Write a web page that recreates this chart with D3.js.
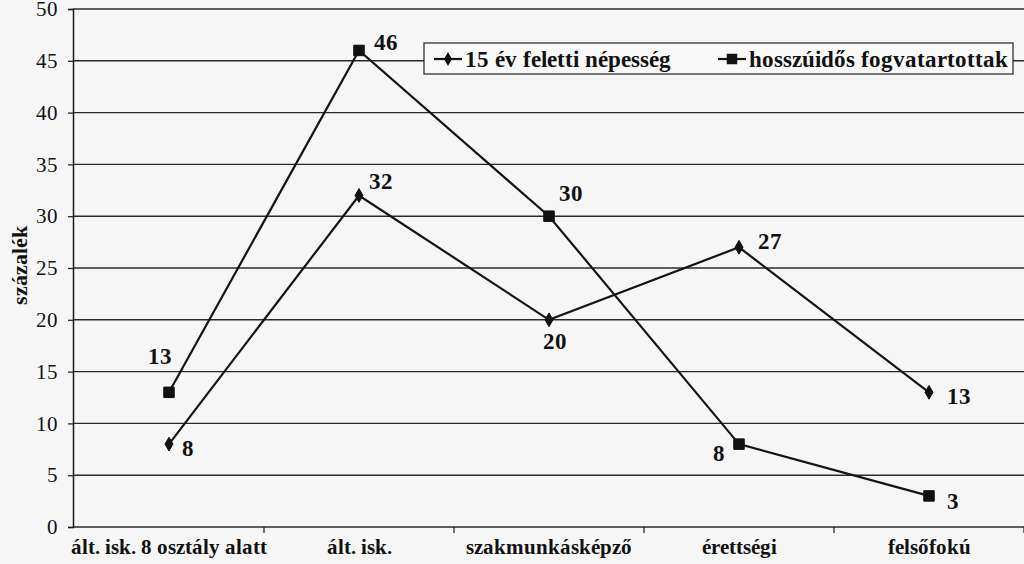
<!DOCTYPE html>
<html>
<head>
<meta charset="utf-8">
<script src="https://cdn.jsdelivr.net/npm/d3@7"></script>
<style>
  @font-face { font-family: "ChartSerif"; src: local("Liberation Serif"), local("LiberationSerif"); font-weight: normal; }
  @font-face { font-family: "ChartSerif"; src: local("Liberation Serif Bold"), local("LiberationSerif-Bold"); font-weight: bold; }
  html, body { margin: 0; padding: 0; }
</style>
</head>
<body>
<div id="chart"></div>
<script>
// data
const categories = ["ált. isk. 8 osztály alatt", "ált. isk.", "szakmunkásképző", "érettségi", "felsőfokú"];
const populationValues = [8, 32, 20, 27, 13];   // 15 év feletti népesség
const prisonerValues = [13, 46, 30, 8, 3];      // hosszúidős fogvatartottak
const yTicks = [0, 5, 10, 15, 20, 25, 30, 35, 40, 45, 50];
const seriesNames = ["15 év feletti népesség", "hosszúidős fogvatartottak"];

// label placement next to each point: [dx, dy, anchor]
const populationLabelPos = [[13, 12, "start"], [10, -6, "start"], [6, 29, "middle"], [19, 2, "start"], [18, 12, "start"]];
const prisonerLabelPos = [[3, -28, "end"], [15, 0, "start"], [10, -15, "start"], [-14, 17, "end"], [18, 13, "start"]];

const width = 1024, height = 564;
const plotLeft = 73, plotRight = 1024, plotTop = 9, plotBottom = 527;
const fontName = "ChartSerif, 'Liberation Serif', Tinos, 'Times New Roman', serif";

const svg = d3.select("#chart").append("svg")
    .attr("width", width)
    .attr("height", height)
    .attr("font-family", fontName);

svg.append("rect")
    .attr("width", width)
    .attr("height", height)
    .attr("fill", "#f6f6f6");

const x = d3.scaleBand()
    .domain(categories)
    .range([74, 1024]);

const y = d3.scaleLinear()
    .domain([0, 50])
    .range([plotBottom, plotTop]);

const cx = d => x(d) + x.bandwidth() / 2;

// gridlines
svg.append("g")
    .selectAll("line")
    .data(yTicks)
    .join("line")
    .attr("x1", plotLeft)
    .attr("x2", plotRight)
    .attr("y1", d => y(d))
    .attr("y2", d => y(d))
    .attr("stroke", "#2a2a2a")
    .attr("stroke-width", 1.4);

// y axis
const yAxis = d3.axisLeft(y).tickValues(yTicks).tickSize(5).tickPadding(10);
const yAxisGroup = svg.append("g")
    .attr("transform", `translate(${plotLeft},0)`)
    .call(yAxis)
    .attr("font-family", fontName)
    .attr("font-size", 21);
yAxisGroup.select(".domain").attr("stroke", "#1a1a1a").attr("stroke-width", 1.5);
yAxisGroup.selectAll(".tick line").attr("stroke", "#1a1a1a").attr("stroke-width", 1.2);
yAxisGroup.selectAll(".tick text")
    .style("font-family", fontName)
    .attr("fill", "#111");

// x axis: ticks on the band edges
const edges = categories.map(c => x(c) + x.bandwidth());
svg.append("g")
    .selectAll("line")
    .data(edges)
    .join("line")
    .attr("x1", d => d)
    .attr("x2", d => d)
    .attr("y1", plotBottom)
    .attr("y2", plotBottom + 6)
    .attr("stroke", "#1a1a1a")
    .attr("stroke-width", 1.2);

svg.append("g")
    .selectAll("text")
    .data(categories)
    .join("text")
    .attr("x", d => cx(d))
    .attr("y", 554)
    .attr("text-anchor", "middle")
    .style("font-family", fontName)
    .style("font-weight", "bold")
    .style("font-size", "21px")
    .attr("fill", "#111")
    .text(d => d);

// y axis title
svg.append("text")
    .attr("transform", "translate(27,265) rotate(-90)")
    .attr("text-anchor", "middle")
    .style("font-family", fontName)
    .style("font-weight", "bold")
    .style("font-size", "22px")
    .attr("fill", "#111")
    .text("százalék");

const line = d3.line()
    .x((d, i) => cx(categories[i]))
    .y(d => y(d));

const diamond = d3.symbol().type(d3.symbolDiamond).size(55);
const square = d3.symbol().type(d3.symbolSquare).size(110);

function drawSeries(values, symbol, labelPos) {
    const g = svg.append("g");
    g.append("path")
        .datum(values)
        .attr("d", line)
        .attr("fill", "none")
        .attr("stroke", "#141414")
        .attr("stroke-width", 2.2);
    g.selectAll("path.mark")
        .data(values)
        .join("path")
        .attr("class", "mark")
        .attr("d", symbol)
        .attr("transform", (d, i) => `translate(${cx(categories[i])},${y(d)})`)
        .attr("fill", "#111")
        .attr("stroke", "#111")
        .attr("stroke-width", 1);
    g.selectAll("text")
        .data(values)
        .join("text")
        .attr("x", (d, i) => cx(categories[i]) + labelPos[i][0])
        .attr("y", (d, i) => y(d) + labelPos[i][1])
        .attr("text-anchor", (d, i) => labelPos[i][2])
        .style("font-family", fontName)
        .style("font-weight", "bold")
        .style("font-size", "23px")
        .attr("fill", "#111")
        .text(d => d);
}

drawSeries(populationValues, diamond, populationLabelPos);
drawSeries(prisonerValues, square, prisonerLabelPos);

// legend
const legend = svg.append("g");
legend.append("rect")
    .attr("x", 424)
    .attr("y", 43)
    .attr("width", 589)
    .attr("height", 31)
    .attr("fill", "#f9f9f9")
    .attr("stroke", "#222")
    .attr("stroke-width", 1.2);

const legendItems = [
    {name: seriesNames[0], symbol: diamond, x: 434},
    {name: seriesNames[1], symbol: square, x: 718}
];
legendItems.forEach(item => {
    legend.append("line")
        .attr("x1", item.x)
        .attr("x2", item.x + 28)
        .attr("y1", 59)
        .attr("y2", 59)
        .attr("stroke", "#141414")
        .attr("stroke-width", 2.2);
    legend.append("path")
        .attr("d", item.symbol)
        .attr("transform", `translate(${item.x + 14},59)`)
        .attr("fill", "#111");
    legend.append("text")
        .attr("x", item.x + 31)
        .attr("y", 67)
        .style("font-family", fontName)
        .style("font-weight", "bold")
        .style("font-size", "23px")
        .attr("fill", "#111")
        .text(item.name);
});
</script>
</body>
</html>
